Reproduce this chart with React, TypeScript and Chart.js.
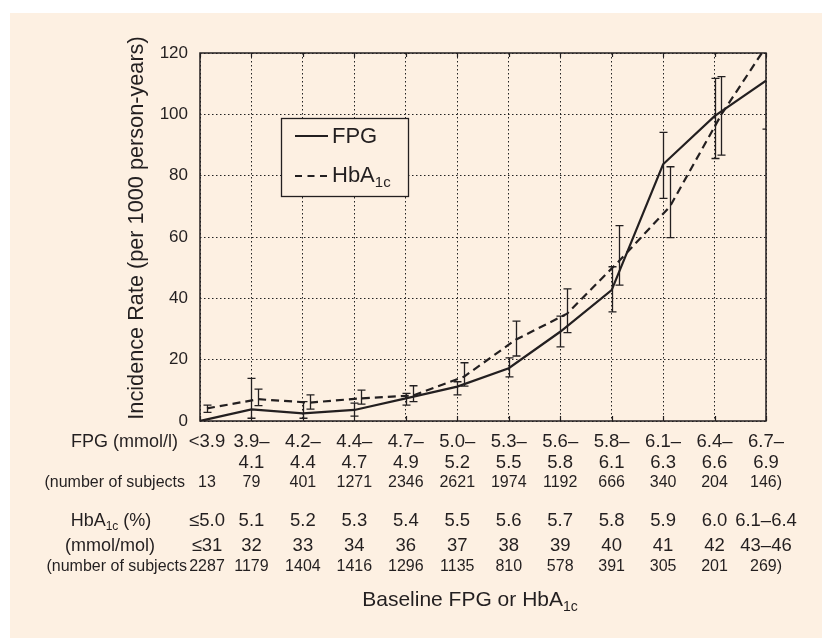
import React, { useEffect, useRef } from 'react';
import { Chart, registerables } from 'chart.js';

Chart.register(...registerables);

// ---------- data ----------
const categoryIndex = [0, 1, 2, 3, 4, 5, 6, 7, 8, 9, 10, 11];

const fpgRangeTop = ['<3.9', '3.9–', '4.2–', '4.4–', '4.7–', '5.0–', '5.3–', '5.6–', '5.8–', '6.1–', '6.4–', '6.7–'];
const fpgRangeBottom = ['', '4.1', '4.4', '4.7', '4.9', '5.2', '5.5', '5.8', '6.1', '6.3', '6.6', '6.9'];
const fpgSubjects = ['13', '79', '401', '1271', '2346', '2621', '1974', '1192', '666', '340', '204', '146)'];

const hbaPercent = ['≤5.0', '5.1', '5.2', '5.3', '5.4', '5.5', '5.6', '5.7', '5.8', '5.9', '6.0', '6.1–6.4'];
const hbaMmol = ['≤31', '32', '33', '34', '36', '37', '38', '39', '40', '41', '42', '43–46'];
const hbaSubjects = ['2287', '1179', '1404', '1416', '1296', '1135', '810', '578', '391', '305', '201', '269)'];

const fpgRate = [0, 3.8, 2.5, 3.6, 7.4, 11.2, 17.2, 29.1, 42.7, 83.7, 99.4, 111];
const fpgLow: (number | null)[] = [null, 0.9, 0.9, 1.6, 5.2, 8.5, 14.4, 24.2, 35.6, 72.6, 85.6, 95.2];
const fpgHigh: (number | null)[] = [null, 13.9, 6.3, 5.8, 9.0, 12.8, 20.6, 34.2, 50.3, 94.1, 111.7, 127];

const hbaRate = [4.1, 7.1, 6.0, 7.4, 8.3, 14.5, 26.5, 35, 52, 70, 100, 125.5];
const hbaLow: (number | null)[] = [2.8, 5.0, 3.9, 5.5, 6.3, 11.4, 21.2, 28.8, 44.3, 59.8, 86.7, null];
const hbaHigh: (number | null)[] = [5.2, 10.4, 8.5, 10.1, 11.5, 19.0, 32.6, 43.1, 63.7, 82.9, 112.3, null];
const hbaShift = 0.135;

const yMin = 0;
const yMax = 120;
const yStep = 20;

// ---------- style ----------
const INK = '#231f20';
const BG = '#fdf0e2';
const FONT = "'Liberation Sans', Arial, Helvetica, sans-serif";

type Part = [string, boolean];

function drawRich(ctx: CanvasRenderingContext2D, parts: Part[], x: number, y: number, size: number, align: 'left' | 'center' | 'right') {
  const sub = Math.round(size * 0.66);
  const widths = parts.map(([t, s]) => {
    ctx.font = `${s ? sub : size}px ${FONT}`;
    return ctx.measureText(t).width;
  });
  const total = widths.reduce((a, b) => a + b, 0);
  let cx = align === 'left' ? x : align === 'center' ? x - total / 2 : x - total;
  ctx.textAlign = 'left';
  ctx.textBaseline = 'middle';
  parts.forEach(([t, s], i) => {
    ctx.font = `${s ? sub : size}px ${FONT}`;
    ctx.fillText(t, cx, s ? y + size * 0.32 : y);
    cx += widths[i];
  });
}

const decorPlugin = {
  id: 'decor',
  beforeDraw(chart: any) {
    const { ctx, width, height } = chart;
    ctx.save();
    ctx.fillStyle = BG;
    ctx.fillRect(0, 0, width, height);
    ctx.restore();
  },
  afterDatasetsDraw(chart: any) {
    const { ctx, chartArea: a, scales } = chart;
    const xs = scales.x;
    const ys = scales.y;

    // error bars
    ctx.save();
    ctx.beginPath();
    ctx.rect(a.left, a.top, a.right - a.left, a.bottom - a.top);
    ctx.clip();
    ctx.strokeStyle = INK;
    ctx.lineWidth = 1.3;
    const bars = (lo: (number | null)[], hi: (number | null)[], shift: number) => {
      categoryIndex.forEach((c, i) => {
        if (lo[i] == null || hi[i] == null) return;
        const px = Math.round(xs.getPixelForValue(c + shift)) + 0.5;
        const p1 = ys.getPixelForValue(lo[i] as number);
        const p2 = ys.getPixelForValue(hi[i] as number);
        ctx.beginPath();
        ctx.moveTo(px, p1);
        ctx.lineTo(px, p2);
        ctx.moveTo(px - 4, p1);
        ctx.lineTo(px + 4, p1);
        ctx.moveTo(px - 4, p2);
        ctx.lineTo(px + 4, p2);
        ctx.stroke();
      });
    };
    bars(fpgLow, fpgHigh, 0);
    bars(hbaLow, hbaHigh, hbaShift);
    ctx.restore();

    ctx.save();
    // frame
    ctx.strokeStyle = INK;
    ctx.lineWidth = 1.5;
    ctx.strokeRect(a.left, a.top, a.right - a.left, a.bottom - a.top);
    // inner tick marks top & bottom
    ctx.lineWidth = 1.2;
    categoryIndex.forEach((c) => {
      const px = Math.round(xs.getPixelForValue(c)) + 0.5;
      ctx.beginPath();
      ctx.moveTo(px, a.bottom);
      ctx.lineTo(px, a.bottom - 5);
      ctx.moveTo(px, a.top);
      ctx.lineTo(px, a.top + 4);
      ctx.stroke();
    });

    // legend box
    const lx = a.left + 81;
    const ly = a.top + 65;
    const lw = 127;
    const lh = 78;
    ctx.fillStyle = BG;
    ctx.fillRect(lx, ly, lw, lh);
    ctx.lineWidth = 1.3;
    ctx.strokeStyle = INK;
    ctx.strokeRect(lx + 0.5, ly + 0.5, lw, lh);
    ctx.lineWidth = 2;
    ctx.beginPath();
    ctx.moveTo(lx + 14, ly + 18);
    ctx.lineTo(lx + 47, ly + 18);
    ctx.stroke();
    ctx.setLineDash([7, 5.5]);
    ctx.beginPath();
    ctx.moveTo(lx + 14, ly + 58);
    ctx.lineTo(lx + 47, ly + 58);
    ctx.stroke();
    ctx.setLineDash([]);
    ctx.fillStyle = INK;
    drawRich(ctx, [['FPG', false]], lx + 51, ly + 19, 22, 'left');
    drawRich(ctx, [['HbA', false], ['1c', true]], lx + 51, ly + 58, 22, 'left');

    // y-axis title
    ctx.save();
    ctx.translate(127, (a.top + a.bottom) / 2 - 9);
    ctx.rotate(-Math.PI / 2);
    ctx.font = `21.7px ${FONT}`;
    ctx.textAlign = 'center';
    ctx.textBaseline = 'middle';
    ctx.fillText('Incidence Rate (per 1000 person-years)', 0, 0);
    ctx.restore();

    // category rows under the x axis
    const b = a.bottom;
    const rowFpg1 = b + 21;
    const rowFpg2 = b + 42;
    const rowFpgN = b + 62;
    const rowHba1 = b + 100;
    const rowHba2 = b + 125;
    const rowHbaN = b + 146;
    const rowTitle = b + 179;

    drawRich(ctx, [['FPG (mmol/l)', false]], a.left - 22, rowFpg1, 18, 'right');
    drawRich(ctx, [['(number of subjects', false]], a.left - 15, rowFpgN, 16, 'right');
    drawRich(ctx, [['HbA', false], ['1c', true], [' (%)', false]], a.left - 89, rowHba1, 18, 'center');
    drawRich(ctx, [['(mmol/mol)', false]], a.left - 90, rowHba2, 18, 'center');
    drawRich(ctx, [['(number of subjects', false]], a.left - 13, rowHbaN, 16, 'right');

    categoryIndex.forEach((c, i) => {
      const px = xs.getPixelForValue(c) + (i === 0 ? 7 : 0);
      drawRich(ctx, [[fpgRangeTop[i], false]], px, rowFpg1, 18.5, 'center');
      if (fpgRangeBottom[i]) drawRich(ctx, [[fpgRangeBottom[i], false]], px, rowFpg2, 18.5, 'center');
      drawRich(ctx, [[fpgSubjects[i], false]], px, rowFpgN, 16, 'center');
      drawRich(ctx, [[hbaPercent[i], false]], px, rowHba1, 18.5, 'center');
      drawRich(ctx, [[hbaMmol[i], false]], px, rowHba2, 18.5, 'center');
      drawRich(ctx, [[hbaSubjects[i], false]], px, rowHbaN, 16, 'center');
    });

    drawRich(ctx, [['Baseline FPG or HbA', false], ['1c', true]], (a.left + a.right) / 2 - 13, rowTitle, 21, 'center');
    ctx.restore();
  },
};

export default function App() {
  const ref = useRef<HTMLCanvasElement | null>(null);

  useEffect(() => {
    if (!ref.current) return;
    const chart = new Chart(ref.current, {
      type: 'line',
      data: {
        datasets: [
          {
            label: 'FPG',
            data: categoryIndex.map((c, i) => ({ x: c, y: fpgRate[i] })),
            borderColor: INK,
            borderWidth: 2.2,
            pointRadius: 0,
            tension: 0,
            fill: false,
            clip: 0,
          } as any,
          {
            label: 'HbA1c',
            data: categoryIndex.map((c, i) => ({ x: c + hbaShift, y: hbaRate[i] })),
            borderColor: INK,
            borderWidth: 2.2,
            borderDash: [8, 5],
            pointRadius: 0,
            tension: 0,
            fill: false,
            clip: 0,
          } as any,
        ],
      },
      options: {
        responsive: false,
        animation: false,
        layout: { padding: { left: 0, right: 56, top: 40, bottom: 217 } },
        plugins: { legend: { display: false }, tooltip: { enabled: false } },
        scales: {
          x: {
            type: 'linear',
            min: 0,
            max: 11,
            ticks: { display: false, stepSize: 1 },
            grid: { color: '#222', lineWidth: 1, drawTicks: false, borderDash: [1.5, 2.5] } as any,
            border: { display: false, dash: [1.5, 2.5] },
            afterFit: (s: any) => {
              s.height = 0;
            },
          },
          y: {
            min: yMin,
            max: yMax,
            ticks: {
              stepSize: yStep,
              padding: 12,
              color: INK,
              font: { family: FONT, size: 17 },
            },
            grid: { color: '#222', lineWidth: 1, drawTicks: false, borderDash: [1.5, 2.5] } as any,
            border: { display: false, dash: [1.5, 2.5] },
            afterFit: (s: any) => {
              s.width = 190;
            },
          },
        },
      } as any,
      plugins: [decorPlugin],
    });
    return () => chart.destroy();
  }, []);

  return (
    <div style={{ position: 'absolute', left: 10, top: 13, width: 812, height: 625, background: BG }}>
      <canvas ref={ref} width={812} height={625} style={{ width: 812, height: 625, display: 'block' }} />
    </div>
  );
}
